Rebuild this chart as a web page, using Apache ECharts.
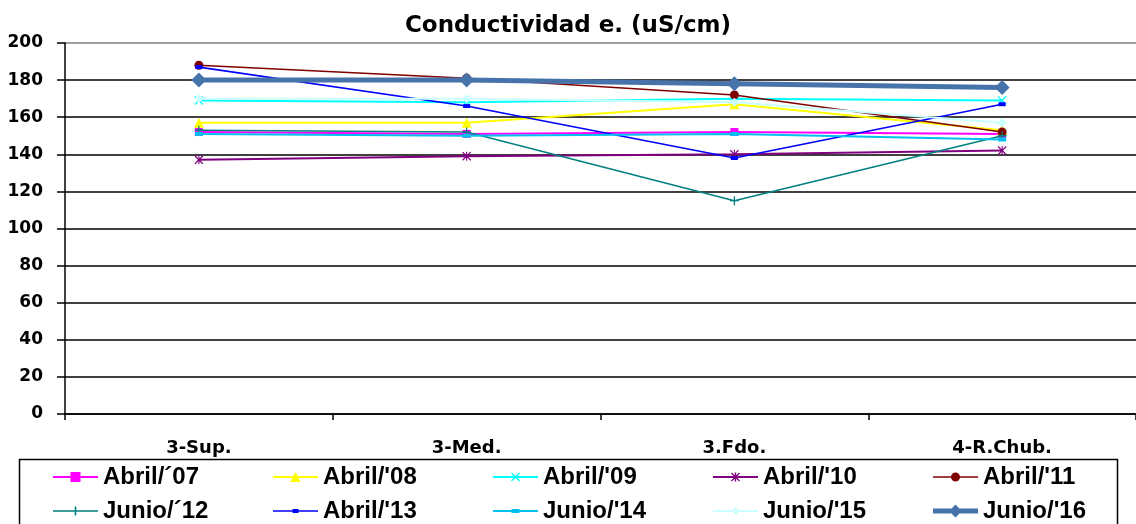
<!DOCTYPE html>
<html>
<head>
<meta charset="utf-8">
<script src="https://cdn.jsdelivr.net/npm/echarts@6/dist/echarts.min.js"></script>
<style>
html,body{margin:0;padding:0;background:#fff;}
#chart{width:1136px;height:524px;}
</style>
</head>
<body>
<div id="chart"></div>
<script>
const categories = ['3-Sup.', '3-Med.', '3.Fdo.', '4-R.Chub.'];
const yTicks = [0, 20, 40, 60, 80, 100, 120, 140, 160, 180, 200];
const seriesNames = ['Abril/´07', "Abril/'08", "Abril/'09", "Abril/'10", "Abril/'11",
                     'Junio/´12', "Abril/'13", "Junio/'14", "Junio/'15", "Junio/'16"];
const abril07 = [152, 151, 152, 151];
const abril08 = [157, 157, 167, 153];
const abril09 = [169, 168, 170, 169];
const abril10 = [137, 139, 140, 142];
const abril11 = [188, 181, 172, 152];
const junio12 = [153, 152, 115, 150];
const abril13 = [187, 166, 138, 167];
const junio14 = [151, 150, 151, 148];
const junio15 = [170, 170, 168, 157];
const junio16 = [180, 180, 178, 176];
const seriesValues = [abril07, abril08, abril09, abril10, abril11, junio12, abril13, junio14, junio15, junio16];

const X_SYM = 'path://M0,1L1,0L5,4L9,0L10,1L6,5L10,9L9,10L5,6L1,10L0,9L4,5Z';
const PLUS_SYM = 'path://M4.3,0H5.7V4.3H10V5.7H5.7V10H4.3V5.7H0V4.3H4.3Z';
const AST_SYM = 'path://M0,1L1,0L5,4L9,0L10,1L6,5L10,9L9,10L5,6L1,10L0,9L4,5Z M4.4,0H5.6V10H4.4Z';

const styles = [
  {color: '#FF00FF', symbol: 'rect', size: 8, width: 2, mk: 'square', ms: 10},
  {color: '#FFFF00', symbol: 'triangle', size: 10, width: 2, mk: 'triangle', ms: 10},
  {color: '#00FFFF', symbol: X_SYM, size: 9, width: 2, mk: 'x', ms: 9},
  {color: '#800080', symbol: AST_SYM, size: 9, width: 2, mk: 'ast', ms: 9},
  {color: '#800000', symbol: 'circle', size: 9, width: 1.6, mk: 'circle', ms: 9},
  {color: '#008080', symbol: PLUS_SYM, size: 9, width: 1.6, mk: 'plus', ms: 9},
  {color: '#0000FF', symbol: 'rect', size: [7, 4], width: 1.6, mk: 'dash', ms: [6, 4]},
  {color: '#00C0F0', symbol: 'rect', size: [8, 4], width: 2, mk: 'dash', ms: [8, 4]},
  {color: '#CCFFFF', symbol: 'diamond', size: 9, width: 2, mk: 'diamond', ms: 8},
  {color: '#4673AA', symbol: 'diamond', size: 15, width: 5, mk: 'diamond', ms: 13}
];

// legend icon: line + marker inside a 45x14 box
const IW = 45, IH = 14;
function legendIcon(st) {
  const cx = IW / 2, cy = IH / 2;
  const w = st.width;
  let p = 'M0,0h0.01v0.01h-0.01Z M' + (IW - 0.01) + ',' + (IH - 0.01) + 'h0.01v0.01h-0.01Z ';
  p += 'M0,' + (cy - w / 2) + 'H' + IW + 'V' + (cy + w / 2) + 'H0Z ';
  const s = st.ms;
  const pts = (arr) => 'M' + arr.map(a => (cx + a[0]) + ',' + (cy + a[1])).join('L') + 'Z ';
  if (st.mk === 'square') {
    p += pts([[-s/2,-s/2],[s/2,-s/2],[s/2,s/2],[-s/2,s/2]]);
  } else if (st.mk === 'dash') {
    p += pts([[-s[0]/2,-s[1]/2],[s[0]/2,-s[1]/2],[s[0]/2,s[1]/2],[-s[0]/2,s[1]/2]]);
  } else if (st.mk === 'triangle') {
    p += pts([[0,-s/2],[s/2,s/2],[-s/2,s/2]]);
  } else if (st.mk === 'diamond') {
    p += pts([[0,-s/2],[s/2,0],[0,s/2],[-s/2,0]]);
  } else if (st.mk === 'circle') {
    const r = s / 2;
    p += 'M' + cx + ',' + (cy - r) + 'A' + r + ',' + r + ',0,1,1,' + cx + ',' + (cy + r) +
         'A' + r + ',' + r + ',0,1,1,' + cx + ',' + (cy - r) + 'Z ';
  } else if (st.mk === 'plus') {
    const h = s / 2, t = 0.8;
    p += pts([[-t,-h],[t,-h],[t,-t],[h,-t],[h,t],[t,t],[t,h],[-t,h],[-t,t],[-h,t],[-h,-t],[-t,-t]]);
  } else if (st.mk === 'x' || st.mk === 'ast') {
    const k = s / 10;
    const xs = [[0,1],[1,0],[5,4],[9,0],[10,1],[6,5],[10,9],[9,10],[5,6],[1,10],[0,9],[4,5]]
      .map(a => [(a[0] - 5) * k, (a[1] - 5) * k]);
    p += pts(xs);
    if (st.mk === 'ast') {
      p += pts([[-0.7,-s/2],[0.7,-s/2],[0.7,s/2],[-0.7,s/2]]);
    }
  }
  return 'path://' + p;
}

const series = seriesNames.map((name, i) => ({
  name: name,
  type: 'line',
  data: seriesValues[i],
  symbol: styles[i].symbol,
  symbolSize: styles[i].size,
  symbolKeepAspect: true,
  showAllSymbol: true,
  animation: false,
  lineStyle: {color: styles[i].color, width: styles[i].width},
  itemStyle: {color: styles[i].color, borderWidth: 0},
  z: 2 + i
}));

const colX = [53, 273, 493, 713, 933];
const rowY = [477, 511];
const legends = seriesNames.map((name, i) => ({
  data: [{name: name, icon: legendIcon(styles[i])}],
  left: colX[i % 5],
  top: rowY[Math.floor(i / 5)] - 12,
  padding: 0,
  itemWidth: IW,
  itemHeight: IH,
  selectedMode: false,
  itemStyle: {color: styles[i].color, borderWidth: 0},
  textStyle: {fontFamily: 'Liberation Sans', fontWeight: 'bold', fontSize: 24, color: '#000', lineHeight: 24}
}));

const splitColors = yTicks.map((t, i) => i === yTicks.length - 1 ? '#808080' : '#000');

const chart = echarts.init(document.getElementById('chart'), null, {renderer: 'canvas'});
chart.setOption({
  backgroundColor: '#fff',
  animation: false,
  title: {
    text: 'Conductividad e. (uS/cm)',
    left: 'center',
    top: 7,
    textStyle: {fontFamily: 'DejaVu Sans', fontWeight: 'bold', fontSize: 23, color: '#000', lineHeight: 28}
  },
  grid: {left: 65, right: -2, top: 43, bottom: 110, containLabel: false},
  xAxis: {
    type: 'category',
    data: categories,
    boundaryGap: true,
    axisLine: {lineStyle: {color: '#000', width: 1.5}},
    axisTick: {show: true, length: 6, lineStyle: {color: '#000', width: 1.5}},
    axisLabel: {margin: 25, fontFamily: 'DejaVu Sans', fontWeight: 'bold', fontSize: 18, color: '#000'},
    splitLine: {show: false}
  },
  yAxis: {
    type: 'value',
    min: 0, max: 200, interval: 20,
    axisLine: {show: true, lineStyle: {color: '#000', width: 1.5}},
    axisTick: {show: true, length: 8, lineStyle: {color: '#000', width: 1.5}},
    axisLabel: {margin: 22, fontFamily: 'DejaVu Sans', fontWeight: 'bold', fontSize: 17, color: '#000'},
    splitLine: {show: true, lineStyle: {color: splitColors, width: 1.5}}
  },
  legend: legends,
  graphic: [{
    type: 'rect',
    left: 17, top: 457,
    shape: {width: 1098, height: 80},
    style: {fill: 'none', stroke: '#000', lineWidth: 1.5},
    z: 0
  }],
  series: series
});
</script>
</body>
</html>
